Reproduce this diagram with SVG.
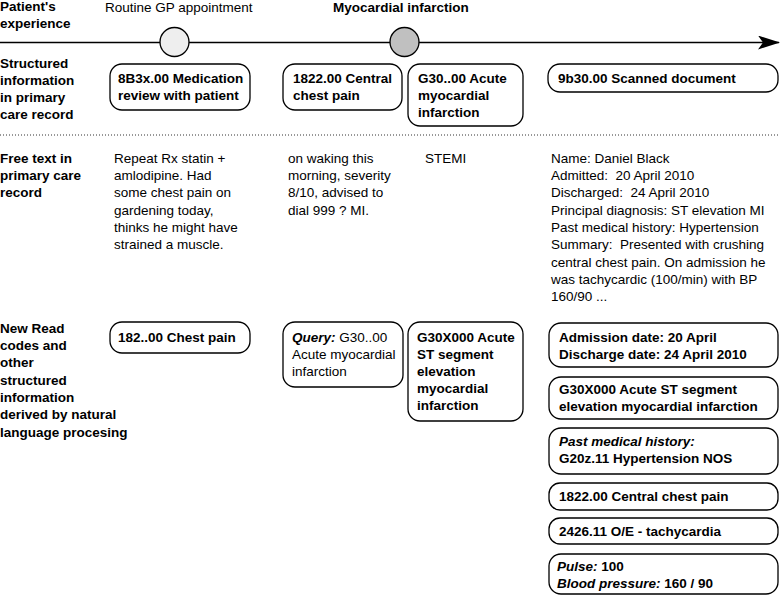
<svg xmlns="http://www.w3.org/2000/svg" width="780" height="596" viewBox="0 0 780 596">
<defs>
<style>
text{font-family:"Liberation Sans",Arial,Helvetica,sans-serif;font-size:13.5px;fill:#000}
.b{font-weight:bold}
.i{font-style:italic}
.pre{white-space:pre}
.box{fill:#fff;stroke:#000;stroke-width:1.3}
</style>
<marker id="arr" viewBox="0 0 22 14" refX="21" refY="7" markerWidth="22" markerHeight="14" markerUnits="userSpaceOnUse" orient="auto">
<path d="M0,0 L22,7 L0,14 L5,7 Z" fill="#000"/>
</marker>
</defs>
<rect width="780" height="596" fill="#fff"/>

<g id="row-labels">
<text class="b" x="0" y="11">Patient's</text>
<text class="b" x="0" y="28">experience</text>
<text class="b" x="0" y="68">Structured</text>
<text class="b" x="0" y="85">information</text>
<text class="b" x="0" y="102">in primary</text>
<text class="b" x="0" y="119">care record</text>
<text class="b" x="0" y="163">Free text in</text>
<text class="b" x="0" y="180">primary care</text>
<text class="b" x="0" y="197">record</text>
<text class="b" x="0" y="333">New Read</text>
<text class="b" x="0" y="350">codes and</text>
<text class="b" x="0" y="367">other</text>
<text class="b" x="0" y="385">structured</text>
<text class="b" x="0" y="402">information</text>
<text class="b" x="0" y="419">derived by natural</text>
<text class="b" x="0" y="437">language procesing</text>
</g>

<g id="connectors">
<line x1="0" y1="42.5" x2="779" y2="42.5" stroke="#000" stroke-width="1.5" marker-end="url(#arr)"/>
<line x1="0" y1="135" x2="780" y2="135" stroke="#333" stroke-width="1" stroke-dasharray="1 2"/>
</g>

<g id="event-gp">
<circle cx="174.5" cy="42" r="14.5" fill="#eeeeee" stroke="#000" stroke-width="1.3"/>
<text x="105" y="12">Routine GP appointment</text>
</g>
<g id="event-mi">
<circle cx="404.5" cy="42" r="14.5" fill="#c0c0c0" stroke="#000" stroke-width="1.3"/>
<text class="b" x="333" y="12">Myocardial infarction</text>
</g>

<g id="s1">
<rect class="box" x="110" y="64" width="140" height="46" rx="12"/>
<text class="b" x="118" y="83">8B3x.00 Medication</text>
<text class="b" x="118" y="100">review with patient</text>
</g>
<g id="s2">
<rect class="box" x="283" y="64" width="119" height="46" rx="12"/>
<text class="b" x="293" y="83">1822.00 Central</text>
<text class="b" x="293" y="100">chest pain</text>
</g>
<g id="s3">
<rect class="box" x="408" y="64" width="115" height="62" rx="12"/>
<text class="b" x="418" y="83">G30..00 Acute</text>
<text class="b" x="418" y="100">myocardial</text>
<text class="b" x="418" y="117">infarction</text>
</g>
<g id="s4">
<rect class="box" x="548" y="64" width="230" height="28" rx="12"/>
<text class="b" x="558" y="83">9b30.00 Scanned document</text>
</g>

<g id="f1">
<text x="114" y="163">Repeat Rx statin +</text>
<text x="114" y="180">amlodipine. Had</text>
<text x="114" y="197">some chest pain on</text>
<text x="114" y="215">gardening today,</text>
<text x="114" y="232">thinks he might have</text>
<text x="114" y="249">strained a muscle.</text>
</g>
<g id="f2">
<text x="288" y="163">on waking this</text>
<text x="288" y="180">morning, severity</text>
<text x="288" y="197">8/10, advised to</text>
<text x="288" y="215">dial 999 ? MI.</text>
</g>
<g id="f3">
<text x="425" y="163">STEMI</text>
</g>
<g id="f4">
<text x="551" y="163">Name: Daniel Black</text>
<text class="pre" x="551" y="180">Admitted:  20 April 2010</text>
<text class="pre" x="551" y="197">Discharged:  24 April 2010</text>
<text x="551" y="215">Principal diagnosis: ST elevation MI</text>
<text x="551" y="232">Past medical history: Hypertension</text>
<text class="pre" x="551" y="249">Summary:  Presented with crushing</text>
<text x="551" y="267">central chest pain. On admission he</text>
<text x="551" y="284">was tachycardic (100/min) with BP</text>
<text x="551" y="301">160/90 ...</text>
</g>

<g id="n1">
<rect class="box" x="110" y="322" width="140" height="31" rx="12"/>
<text class="b" x="118" y="342">182..00 Chest pain</text>
</g>
<g id="n2">
<rect class="box" x="283" y="322" width="120" height="65" rx="12"/>
<text x="292" y="342"><tspan class="b i">Query:</tspan> G30..00</text>
<text x="292" y="359">Acute myocardial</text>
<text x="292" y="376">infarction</text>
</g>
<g id="n3">
<rect class="box" x="408" y="322" width="115" height="99" rx="12"/>
<text class="b" x="417" y="342">G30X000 Acute</text>
<text class="b" x="417" y="359">ST segment</text>
<text class="b" x="417" y="376">elevation</text>
<text class="b" x="417" y="393">myocardial</text>
<text class="b" x="417" y="410">infarction</text>
</g>
<g id="n4">
<rect class="box" x="549" y="323" width="229" height="44" rx="12"/>
<text class="b" x="559" y="342">Admission date: 20 April</text>
<text class="b" x="559" y="359">Discharge date: 24 April 2010</text>
</g>
<g id="n5">
<rect class="box" x="549" y="377" width="229" height="42" rx="12"/>
<text class="b" x="559" y="394">G30X000 Acute ST segment</text>
<text class="b" x="559" y="411">elevation myocardial infarction</text>
</g>
<g id="n6">
<rect class="box" x="549" y="428" width="229" height="46" rx="12"/>
<text class="b i" x="559" y="446">Past medical history:</text>
<text class="b" x="559" y="463">G20z.11 Hypertension NOS</text>
</g>
<g id="n7">
<rect class="box" x="549" y="483" width="229" height="27" rx="11"/>
<text class="b" x="559" y="501">1822.00 Central chest pain</text>
</g>
<g id="n8">
<rect class="box" x="549" y="518" width="229" height="26" rx="11"/>
<text class="b" x="559" y="536">2426.11 O/E - tachycardia</text>
</g>
<g id="n9">
<rect class="box" x="549" y="554" width="229" height="40" rx="12"/>
<text class="b" x="557" y="571"><tspan class="i">Pulse:</tspan> 100</text>
<text class="b" x="557" y="588"><tspan class="i">Blood pressure:</tspan> 160 / 90</text>
</g>
</svg>
